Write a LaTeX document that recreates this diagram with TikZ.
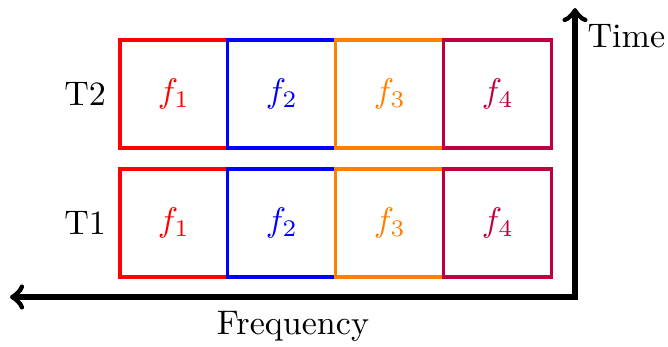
\documentclass[tikz,border=0pt]{standalone}
\usetikzlibrary{positioning}
\tikzset{
  cell/.style={draw, line width=0.9pt, minimum width=1.113cm, minimum height=1.113cm,
    inner sep=0pt, outer sep=0pt},
}
\begin{document}
\begin{tikzpicture}
    \useasboundingbox (-5.928,-0.515) rectangle (0.959,3.062);
    % axes
    \coordinate (origin) at (0,0);
    \coordinate (tend) at (0,2.979);
    \coordinate (fend) at (-5.825,0);
    \draw[ultra thick,<->] (fend) -- (origin) -- (tend);
    \node (time) at (0.53,2.69) {Time};
    \node (freq) at (-2.907,-0.299) {Frequency};
    % frequency slots, one row per time slot
    \foreach \r/\y in {1/0.763, 2/2.093}{
        \foreach \i/\c in {1/red, 2/blue, 3/orange, 4/purple}{
            \node[cell, draw=\c, text=\c] (c\r\i) at ({-4.691+1.113*(\i-0.5)},\y) {$f_{\i}$};
        }
    }
    \node[left=0.02cm of c11] (t1) {T1};
    \node[left=0.02cm of c21] (t2) {T2};
\end{tikzpicture}
\end{document}
